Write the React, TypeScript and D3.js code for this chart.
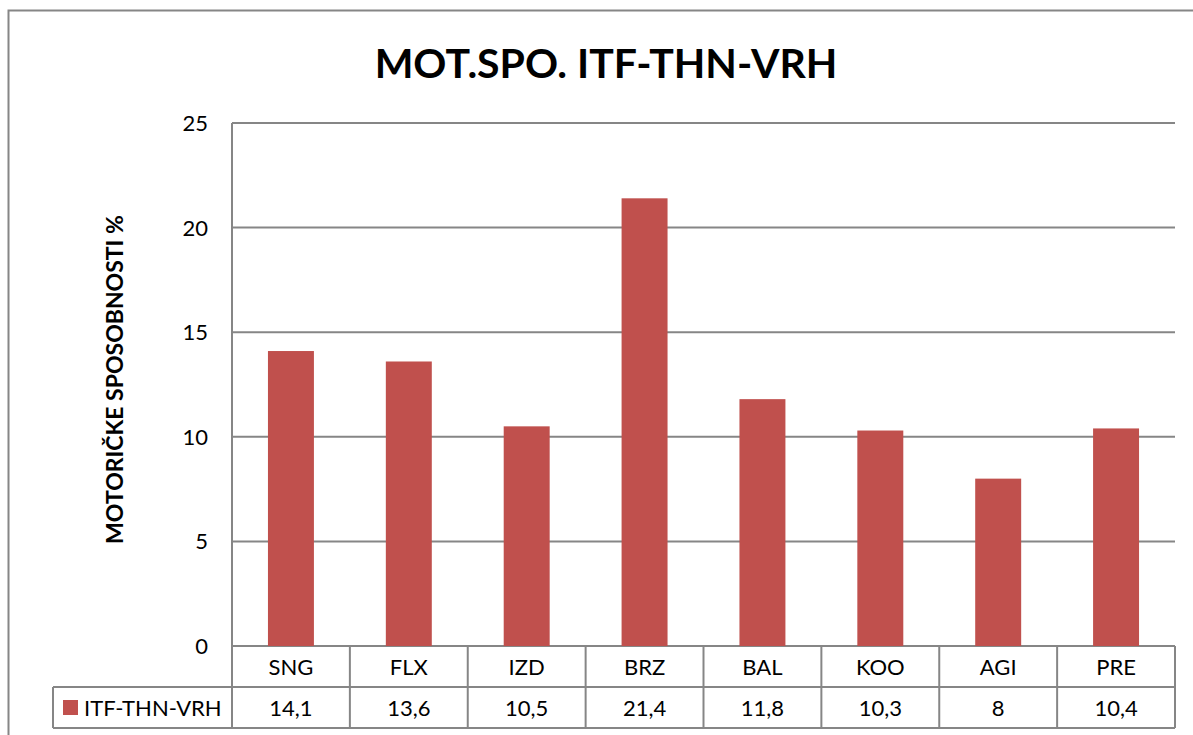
import React, { useEffect, useRef } from "react";
import * as d3 from "d3";

const categories = ["SNG", "FLX", "IZD", "BRZ", "BAL", "KOO", "AGI", "PRE"];
const values = [14.1, 13.6, 10.5, 21.4, 11.8, 10.3, 8, 10.4];
const valueLabels = ["14,1", "13,6", "10,5", "21,4", "11,8", "10,3", "8", "10,4"];
const yTicks = [0, 5, 10, 15, 20, 25];
const seriesName = "ITF-THN-VRH";
const title = "MOT.SPO. ITF-THN-VRH";
const yTitle = "MOTORIČKE SPOSOBNOSTI %";

const W = 1193;
const H = 735;
const margin = { top: 123, right: 18, bottom: 89, left: 232 };
const rowH = 41;
const font = "Lato, 'Open Sans', sans-serif";
const grey = "#868686";
const barColor = "#C0504D";

function App() {
  const ref = useRef<SVGSVGElement>(null);

  useEffect(() => {
    const svg = d3.select(ref.current);
    svg.selectAll("*").remove();

    const plotBottom = H - margin.bottom;
    const right = W - margin.right;

    const x = d3.scaleBand().domain(categories).range([margin.left, right]).paddingInner(0.61).paddingOuter(0.305);
    const cols = d3.scaleBand().domain(categories).range([margin.left, right]);
    const y = d3.scaleLinear().domain([0, 25]).range([plotBottom, margin.top]);

    // outer border
    svg.append("rect").attr("x", 8.5).attr("y", 10.5).attr("width", W).attr("height", H)
      .attr("fill", "white").attr("stroke", grey).attr("stroke-width", 2);

    svg.append("text").attr("x", 606).attr("y", 78).attr("text-anchor", "middle")
      .attr("font-family", font).attr("font-weight", "bold").attr("font-size", 41).attr("fill", "black").text(title);

    // gridlines
    svg.append("g").selectAll("line").data(yTicks).join("line")
      .attr("x1", margin.left).attr("x2", right)
      .attr("y1", (d) => y(d)).attr("y2", (d) => y(d))
      .attr("stroke", grey).attr("stroke-width", 2);

    svg.append("g").selectAll("text").data(yTicks).join("text")
      .attr("x", 208).attr("y", (d) => y(d) + 8).attr("text-anchor", "end")
      .attr("font-family", font).attr("font-size", 22).text((d) => d);

    svg.append("text")
      .attr("transform", `translate(123,${(margin.top + plotBottom) / 2 - 5}) rotate(-90)`)
      .attr("text-anchor", "middle").attr("font-family", font).attr("font-weight", "bold").attr("font-size", 23)
      .text(yTitle);

    // bars
    svg.append("g").selectAll("rect").data(values).join("rect")
      .attr("x", (_, i) => x(categories[i])!).attr("width", x.bandwidth())
      .attr("y", (d) => y(d)).attr("height", (d) => plotBottom - y(d))
      .attr("fill", barColor);

    // data table
    const t = svg.append("g").attr("stroke", grey).attr("stroke-width", 2);
    t.append("line").attr("x1", margin.left).attr("x2", margin.left).attr("y1", margin.top).attr("y2", plotBottom + 2 * rowH);
    t.selectAll(".v").data(categories).join("line").attr("class", "v")
      .attr("x1", (d) => cols(d)! + cols.bandwidth()).attr("x2", (d) => cols(d)! + cols.bandwidth())
      .attr("y1", plotBottom).attr("y2", plotBottom + 2 * rowH);
    t.append("line").attr("x1", 53).attr("x2", right).attr("y1", plotBottom + rowH).attr("y2", plotBottom + rowH);
    t.append("line").attr("x1", 53).attr("x2", right).attr("y1", plotBottom + 2 * rowH).attr("y2", plotBottom + 2 * rowH);
    t.append("line").attr("x1", 53).attr("x2", 53).attr("y1", plotBottom + rowH).attr("y2", plotBottom + 2 * rowH);

    svg.append("g").selectAll("text").data(categories).join("text")
      .attr("x", (d) => cols(d)! + cols.bandwidth() / 2).attr("y", plotBottom + 29)
      .attr("text-anchor", "middle").attr("font-family", font).attr("font-size", 22).text((d) => d);

    svg.append("g").selectAll("text").data(valueLabels).join("text")
      .attr("x", (_, i) => cols(categories[i])! + cols.bandwidth() / 2).attr("y", plotBottom + rowH + 29)
      .attr("text-anchor", "middle").attr("font-family", font).attr("font-size", 22).text((d) => d);

    svg.append("rect").attr("x", 63).attr("y", plotBottom + rowH + 13).attr("width", 15).attr("height", 15).attr("fill", barColor);
    svg.append("text").attr("x", 84).attr("y", plotBottom + rowH + 29)
      .attr("font-family", font).attr("font-size", 22).text(seriesName);
  }, []);

  return (
    <svg ref={ref} width={W} height={H} style={{ position: "absolute", left: 0, top: 0 }} />
  );
}

export default App;
